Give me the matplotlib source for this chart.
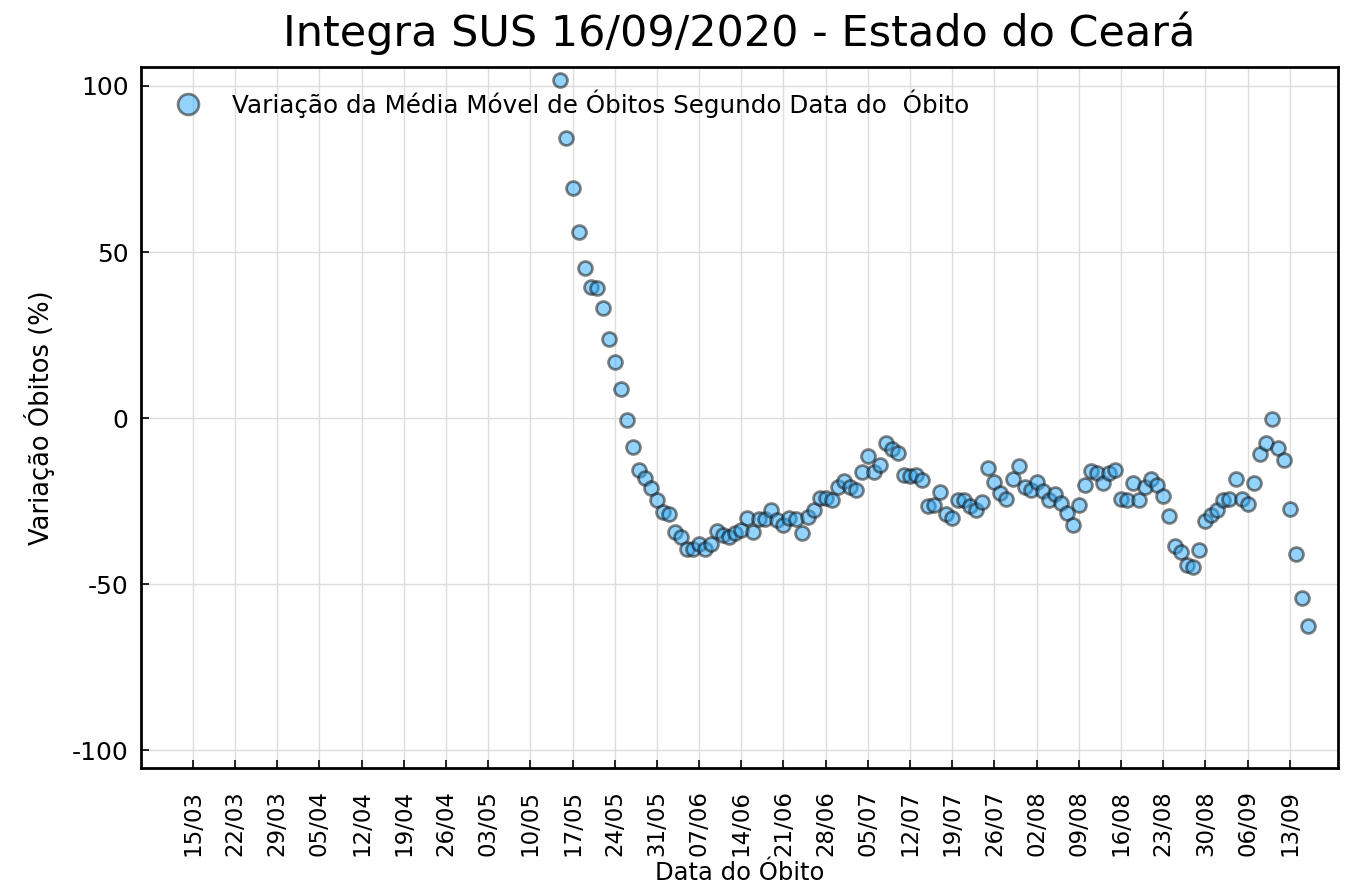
import matplotlib
matplotlib.use('Agg')
import matplotlib.pyplot as plt
import pandas as pd

# ---- data ----
start_date = '2020-05-15'
variacao = [
    101.7, 84.4, 69.3, 56.0, 45.3, 39.5, 39.3, 33.2, 23.9, 16.8,
    8.8, -0.5, -8.6, -15.5, -17.9, -20.9, -24.7, -28.2, -28.7, -34.3,
    -35.8, -39.3, -39.3, -37.8, -39.4, -37.8, -33.9, -35.3, -35.8, -34.7,
    -33.7, -30.2, -34.3, -30.5, -30.5, -27.5, -30.7, -32.2, -29.9, -30.5,
    -34.6, -29.7, -27.5, -23.9, -23.9, -24.7, -20.7, -18.9, -20.7, -21.7,
    -16.1, -11.5, -16.1, -14.1, -7.4, -9.4, -10.4, -17.1, -17.4, -17.1,
    -18.6, -26.5, -26.2, -22.2, -28.7, -30.0, -24.7, -24.7, -26.5, -27.5,
    -25.2, -14.9, -19.2, -22.5, -24.2, -18.4, -14.4, -20.7, -21.5, -19.2,
    -21.9, -24.7, -22.7, -25.5, -28.5, -32.2, -26.2, -20.2, -15.8, -16.6,
    -19.6, -16.4, -15.6, -24.2, -24.7, -19.6, -24.7, -20.8, -18.4, -20.2,
    -23.5, -29.5, -38.6, -40.3, -44.3, -44.8, -39.6, -30.9, -29.2, -27.6,
    -24.7, -24.2, -18.4, -24.2, -25.7, -19.6, -10.8, -7.4, -0.3, -9.1,
    -12.6, -27.2, -41.0, -54.1, -62.5,
]
tick_start = '2020-03-15'
tick_end = '2020-09-13'
y_ticks = [-100, -50, 0, 50, 100]
y_tick_labels = ['-100', '-50', '0', '50', '100']

title = 'Integra SUS 16/09/2020 - Estado do Ceará'
legend_label = 'Variação da Média Móvel de Óbitos Segundo Data do  Óbito'
x_label = 'Data do Óbito'
y_label = 'Variação Óbitos (%)'

dates = pd.date_range(start_date, periods=len(variacao), freq='D')
ticks = pd.date_range(tick_start, tick_end, freq='7D')
tick_labels = [d.strftime('%d/%m') for d in ticks]

fig = plt.figure(figsize=(13.5, 8.85), dpi=100)
ax = fig.add_axes([0.1044, 0.1322, 0.8867, 0.7921])

ax.plot(dates, variacao, linestyle='none', marker='o', markersize=10,
        markerfacecolor=(50/255, 172/255, 248/255), markeredgecolor='#111111',
        markeredgewidth=2, alpha=0.52, label=legend_label, zorder=3)

ax.set_xticks(ticks)
ax.set_xticklabels(tick_labels, rotation=90, fontsize=16.5)
ax.set_yticks(y_ticks)
ax.set_yticklabels(y_tick_labels, fontsize=18)
ax.set_xlim(pd.Timestamp(tick_start) - pd.Timedelta(days=8.6),
            pd.Timestamp(tick_end) + pd.Timedelta(days=8.0))
ax.set_ylim(-105.3, 105.7)

ax.grid(True, color='#dddddd', linewidth=1.0, zorder=0)
ax.set_axisbelow(True)
ax.tick_params(axis='x', direction='in', length=6, width=1.2, pad=16, bottom=True, top=False)
ax.tick_params(axis='y', direction='in', length=6, width=1.2, pad=9, left=True, right=False)
for s in ax.spines.values():
    s.set_linewidth(2)
    s.set_color('black')

ax.set_title(title, fontsize=31, pad=15)
ax.set_xlabel(x_label, fontsize=17.5, labelpad=3)
ax.set_ylabel(y_label, fontsize=18.5, labelpad=12)

ax.legend(loc='upper left', frameon=False, markerscale=1.5, fontsize=17.7)

fig.savefig('out.png', dpi=100)
